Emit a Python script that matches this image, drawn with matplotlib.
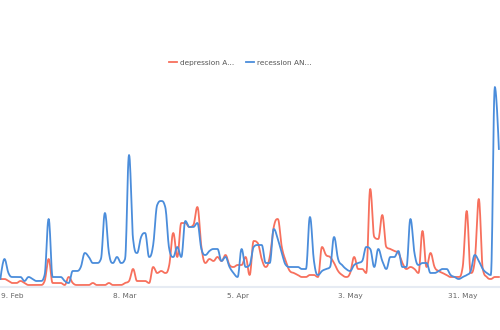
import numpy as np
import matplotlib
matplotlib.use("Agg")
import matplotlib.pyplot as plt
import matplotlib.dates as mdates
from datetime import date, timedelta

start = date(2020, 2, 6)
n_days = 125
dates = [start + timedelta(days=i) for i in range(n_days)]

depression = [4, 4, 3, 2, 2, 3, 2, 1, 1, 1, 1, 3, 14, 2, 2, 2, 1, 5, 2, 1,
              1, 1, 1, 2, 1, 1, 1, 2, 1, 1, 1, 2, 3, 9, 3, 3, 3, 2, 10, 7,
              8, 7, 11, 27, 15, 32, 32, 30, 31, 40, 20, 12, 14, 13, 15, 13, 16, 11, 10, 11,
              11, 15, 6, 23, 22, 14, 10, 15, 30, 34, 20, 13, 8, 7, 6, 5, 5, 6, 6, 5,
              20, 16, 15, 12, 8, 6, 5, 7, 15, 9, 9, 7, 49, 25, 24, 36, 20, 19, 18, 17,
              12, 9, 10, 9, 7, 28, 10, 17, 10, 8, 7, 6, 5, 5, 5, 10, 38, 7, 13, 44,
              9, 5, 4, 5, 5]
recession = [4, 14, 7, 5, 5, 5, 3, 5, 4, 3, 3, 6, 34, 5, 5, 5, 3, 2, 8, 8,
             10, 17, 15, 12, 12, 14, 37, 17, 12, 15, 12, 14, 66, 24, 17, 25, 27, 15, 21, 41,
             43, 40, 19, 15, 20, 15, 33, 30, 30, 32, 19, 16, 18, 19, 19, 13, 15, 10, 7, 5,
             19, 10, 11, 20, 21, 21, 12, 12, 29, 24, 17, 11, 10, 10, 10, 9, 9, 35, 13, 6,
             8, 9, 10, 25, 14, 11, 9, 8, 11, 12, 13, 20, 19, 10, 19, 13, 9, 15, 15, 18,
             10, 10, 34, 17, 11, 12, 12, 7, 7, 8, 9, 9, 6, 5, 4, 5, 6, 8, 16, 13,
             9, 7, 6, 100, 69]
series_names = ["depression A...", "recession AN..."]
colors = ["#f7705d", "#4b8ddb"]
tick_dates = [date(2020, 2, 9), date(2020, 3, 8), date(2020, 4, 5),
              date(2020, 5, 3), date(2020, 5, 31)]


def spline(xs, ys, smoothing=1.5, steps=12):
    """Highcharts-like spline: cubic Bezier segments."""
    xs = np.asarray(xs, float)
    ys = np.asarray(ys, float)
    n = len(xs)
    denom = smoothing + 1
    lc = [(xs[0], ys[0])] * n
    rc = [(xs[0], ys[0])] * n
    for i in range(n):
        x, y = xs[i], ys[i]
        if 0 < i < n - 1:
            lx, ly = xs[i - 1], ys[i - 1]
            nx, ny = xs[i + 1], ys[i + 1]
            lcx = (smoothing * x + lx) / denom
            lcy = (smoothing * y + ly) / denom
            rcx = (smoothing * x + nx) / denom
            rcy = (smoothing * y + ny) / denom
            if rcx != lcx:
                corr = ((rcy - lcy) * (rcx - x)) / (rcx - lcx) + y - rcy
                lcy += corr
                rcy += corr
            if lcy > ly and lcy > y:
                lcy = max(ly, y)
                rcy = 2 * y - lcy
            elif lcy < ly and lcy < y:
                lcy = min(ly, y)
                rcy = 2 * y - lcy
            if rcy > ny and rcy > y:
                rcy = max(ny, y)
                lcy = 2 * y - rcy
            elif rcy < ny and rcy < y:
                rcy = min(ny, y)
                lcy = 2 * y - rcy
            lc[i] = (lcx, lcy)
            rc[i] = (rcx, rcy)
        else:
            lc[i] = (x, y)
            rc[i] = (x, y)
    t = np.linspace(0, 1, steps, endpoint=False)
    ox, oy = [], []
    for i in range(n - 1):
        p0 = np.array([xs[i], ys[i]])
        p1 = np.array(rc[i])
        p2 = np.array(lc[i + 1])
        p3 = np.array([xs[i + 1], ys[i + 1]])
        b = ((1 - t) ** 3)[:, None] * p0 + (3 * (1 - t) ** 2 * t)[:, None] * p1 \
            + (3 * (1 - t) * t ** 2)[:, None] * p2 + (t ** 3)[:, None] * p3
        ox.extend(b[:, 0])
        oy.extend(b[:, 1])
    ox.append(xs[-1])
    oy.append(ys[-1])
    return np.array(ox), np.array(oy)


fig = plt.figure(figsize=(5, 3.3), dpi=100)
ax = fig.add_axes([0.0, (330 - 287) / 330, 1.0, 210 / 330])

xnum = mdates.date2num(dates)
for vals, name, col in zip([depression, recession], series_names, colors):
    sx, sy = spline(xnum, vals)
    ax.plot(sx, sy, color=col, lw=1.3, label=name, solid_joinstyle="round")

ax.set_ylim(0, 105)
ax.set_xlim(xnum[0] - 0.1, xnum[0] + 124.28)
ax.set_xticks(mdates.date2num(tick_dates))
ax.set_xticklabels([f"{d.day}. {d.strftime('%b')}" for d in tick_dates])
ax.tick_params(axis="x", length=0, labelsize=5.3, colors="#666666", pad=4)
ax.tick_params(axis="y", left=False, labelleft=False)
for s in ["top", "right", "left"]:
    ax.spines[s].set_visible(False)
ax.spines["bottom"].set_color("#e6ebf3")
ax.spines["bottom"].set_linewidth(1.5)
for lbl in ax.get_xticklabels():
    lbl.set_color("#666666")

leg = ax.legend(loc="center", bbox_to_anchor=(0.48, (287 - 63) / 210 * 1.0 if False else 1 + (77 - 63) / 210),
                ncol=2, frameon=False, fontsize=5.3, handlelength=1.1,
                handletextpad=0.4, columnspacing=1.6, labelcolor="#555555")
for h in leg.get_lines():
    h.set_linewidth(1.3)

fig.savefig("out.png", dpi=100, facecolor="white")
